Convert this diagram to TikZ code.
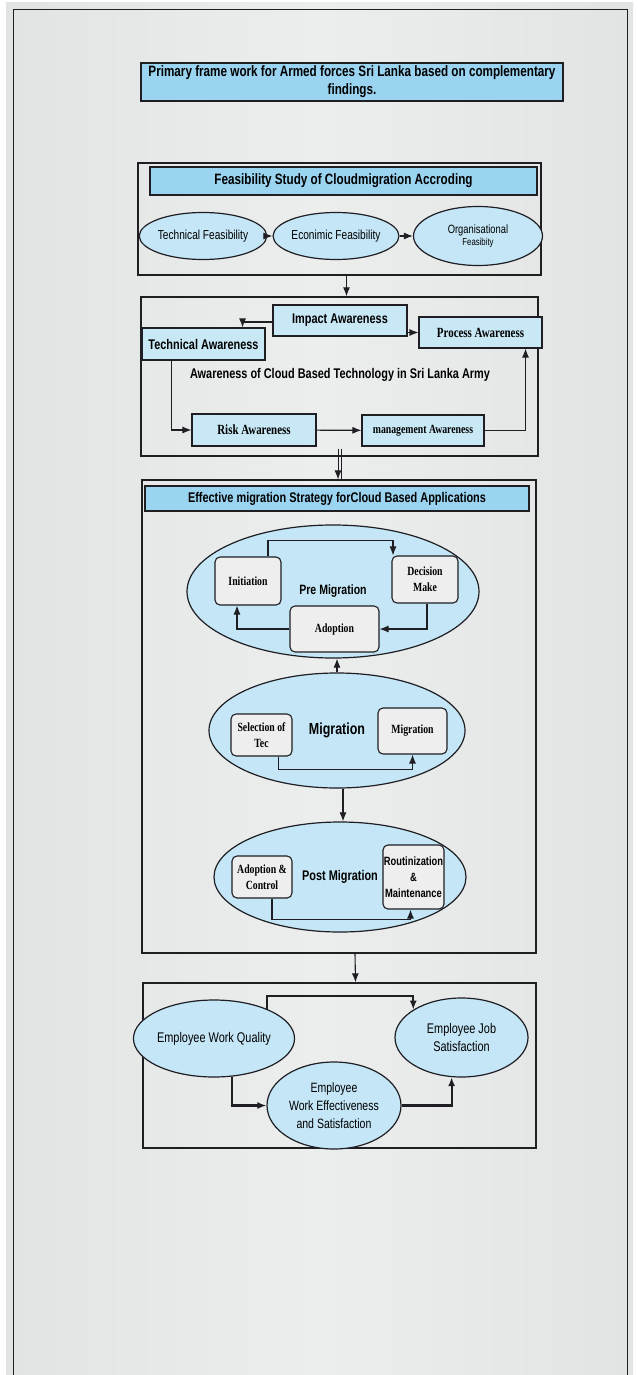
\documentclass[tikz,border=0pt]{standalone}
\usepackage{fontspec}
\setmainfont{Liberation Sans}[FakeStretch=0.78]
\newfontfamily\timesfont{Liberation Serif}[FakeStretch=0.78]
\usepackage{tikz}
\usetikzlibrary{arrows.meta,shapes.geometric}
\definecolor{HeaderBlue}{RGB}{155,212,240}
\definecolor{CloudBlue}{RGB}{196,230,246}
\definecolor{BoxBlue}{RGB}{200,232,246}
\definecolor{PhaseGrey}{RGB}{238,238,238}
\definecolor{LineDark}{RGB}{30,30,35}
\definecolor{PageGrey}{RGB}{226,228,228}
\definecolor{PageLight}{RGB}{236,237,237}

\begin{document}
\begin{tikzpicture}[x=1pt,y=-1pt,>={Latex[length=9pt,width=7pt]},
  frame/.style={draw=LineDark,line width=1.3pt,inner sep=0pt},
  header/.style={draw=LineDark,line width=1.6pt,fill=HeaderBlue,inner sep=0pt,align=center,font=\bfseries\fontsize{14}{18}\selectfont},
  cloud/.style={ellipse,draw=LineDark,line width=1.2pt,fill=CloudBlue,inner sep=0pt,align=center},
  aware/.style={draw=LineDark,line width=1.1pt,fill=BoxBlue,inner sep=0pt},
  phase/.style={draw=LineDark,line width=1.1pt,fill=PhaseGrey,rounded corners=5pt,inner sep=0pt,align=center,font=\timesfont\bfseries\fontsize{12.5}{16}\selectfont},
  link/.style={->,line width=1.1pt,LineDark},
  thicklink/.style={->,line width=2.2pt,LineDark}]
  \useasboundingbox (0,0) rectangle (637,1375);
  \fill[white] (0,0) rectangle (637,1375);
  \shade[left color=PageGrey,right color=PageGrey,middle color=PageLight] (6,3) rectangle (633,1375);
  \draw[LineDark,line width=1pt] (13,1375) -- (13,10) -- (627,10) -- (627,1375);

  \node[header,minimum width=422pt,minimum height=38pt,font=\bfseries\fontsize{15}{18}\selectfont] (title) at (352,82)
    {Primary frame work for Armed forces Sri Lanka based on complementary\\findings.};

  % feasibility
  \node[frame,minimum width=403pt,minimum height=112pt] (feas) at (339.5,219) {};
  \node[header,minimum width=387pt,minimum height=28pt,font=\bfseries\fontsize{15}{18}\selectfont] (feashead) at (343.5,181)
    {Feasibility Study of Cloudmigration Accroding};
  \node[cloud,minimum width=123pt,minimum height=47pt,font=\fontsize{13}{16}\selectfont] (techfeas) at (203,236) {Technical Feasibility};
  \node[cloud,minimum width=121pt,minimum height=47pt,font=\fontsize{13}{16}\selectfont] (econfeas) at (336,236) {Econimic Feasibility};
  \node[cloud,minimum width=129pt,minimum height=59pt] (orgfeas) at (478,236)
    {\fontsize{12}{15}\selectfont Organisational\\\fontsize{10}{15}\selectfont Feasibity};
  \draw[link] (techfeas) -- (econfeas);
  \draw[link] (econfeas) -- (orgfeas);

  % awareness
  \node[frame,minimum width=397pt,minimum height=159pt] (aware) at (339.5,376.5) {};
  \draw[link] ([xshift=7pt]feas.south) -- ([xshift=7pt]aware.north);
  \node[aware,minimum width=134pt,minimum height=31pt,font=\bfseries\fontsize{14}{17}\selectfont] (impact) at (340,320.5) {\raisebox{3pt}{Impact Awareness}};
  \node[aware,minimum width=123pt,minimum height=31pt,font=\timesfont\bfseries\fontsize{14}{17}\selectfont] (process) at (480.5,332.5) {Process Awareness};
  \node[aware,minimum width=123pt,minimum height=32pt,font=\bfseries\fontsize{14}{17}\selectfont] (techaware) at (203.5,344) {Technical Awareness};
  \node[font=\bfseries\fontsize{14}{17}\selectfont] (awarelabel) at (340,375) {Awareness of Cloud Based Technology in Sri Lanka Army};
  \node[aware,minimum width=124pt,minimum height=32pt,font=\timesfont\bfseries\fontsize{14}{17}\selectfont] (risk) at (254,430) {Risk Awareness};
  \node[aware,minimum width=122pt,minimum height=31pt,font=\timesfont\bfseries\fontsize{12.5}{16}\selectfont] (manage) at (423,430.5) {management Awareness};
  \draw[link] ([yshift=-1.5pt]impact.west) -| ([xshift=-23pt]techaware.north east);
  \draw[link] (impact.east |- process.west) -- (process.west);
  \draw[link] ([xshift=30pt]techaware.south west) |- (risk.west);
  \draw[link] (risk) -- (manage);
  \draw[link] (manage.east) -| ([xshift=45pt]process.south);

  % migration strategy
  \node[frame,minimum width=394pt,minimum height=473pt] (effect) at (339,716.5) {};
  \coordinate (dbl) at ([yshift=8pt,xshift=-1.5pt]aware.south);
  \draw[link,line width=0.8pt] (dbl) -- (dbl |- effect.north);
  \draw[LineDark,line width=0.8pt] ([xshift=3pt]dbl) -- ([xshift=3pt]dbl |- effect.north);
  \node[header,minimum width=384pt,minimum height=25pt] (effhead) at (337,498.5)
    {Effective migration Strategy forCloud Based Applications};

  \node[cloud,minimum width=292pt,minimum height=133pt,font=\bfseries\fontsize{13.5}{16}\selectfont] (premig) at (333,591.5) {Pre Migration};
  \node[phase,minimum width=66pt,minimum height=48pt] (initiation) at (248,581) {Initiation};
  \node[phase,minimum width=66pt,minimum height=47pt] (decision) at (425,579.5) {Decision\\Make};
  \node[phase,minimum width=89pt,minimum height=46pt] (adoption) at (334.5,629) {Adoption};
  \draw[link] ([xshift=20pt]initiation.north) -- ++(0,-16) -| ([xshift=-32pt]decision.north);
  \draw[link] ([xshift=2pt]decision.south) |- (adoption.east);
  \draw[link] (adoption.west) -| ([xshift=-11pt]initiation.south);

  \node[cloud,minimum width=256pt,minimum height=115pt,font=\bfseries\fontsize{16}{19}\selectfont] (mig) at (337,730.5) {Migration};
  \node[phase,minimum width=61pt,minimum height=42pt] (selection) at (261.5,735) {Selection of\\Tec};
  \node[phase,minimum width=69pt,minimum height=46pt] (migbox) at (412.5,731) {\raisebox{3pt}{Migration}};
  \draw[link] (mig.north) -- (mig.north |- premig.south);
  \draw[link] ([xshift=17pt]selection.south) -- ++(0,13) -| (migbox.south);

  \node[cloud,minimum width=252pt,minimum height=110pt,font=\bfseries\fontsize{14}{17}\selectfont] (postmig) at (340,877) {Post Migration};
  \node[phase,minimum width=60pt,minimum height=42pt] (control) at (262,877) {Adoption \&\\Control};
  \node[phase,minimum width=61pt,minimum height=64pt,font=\bfseries\fontsize{12}{16}\selectfont] (routine) at (413.5,877)
    {Routinization\\\&\\Maintenance};
  \draw[link] ([xshift=3pt]postmig.north |- mig.south) -- ([xshift=3pt]postmig.north);
  \draw[link] ([xshift=10pt]control.south) -- ++(0,21) -| ([xshift=-3pt]routine.south);

  % employee outcome
  \node[frame,minimum width=393pt,minimum height=165pt] (employ) at (339.5,1065.5) {};
  \draw[link] ([xshift=16pt]effect.south) -- ([xshift=16pt]employ.north);
  \node[cloud,minimum width=136pt,minimum height=77pt,font=\fontsize{14}{18}\selectfont] (quality) at (214,1038.5) {Employee Work Quality};
  \node[cloud,minimum width=133pt,minimum height=79pt,font=\fontsize{14}{18}\selectfont] (jobsat) at (461.5,1037.5) {Employee Job\\Satisfaction};
  \node[cloud,minimum width=134pt,minimum height=87pt,font=\fontsize{13.5}{18}\selectfont] (workeff) at (334,1105.5)
    {Employee\\Work Effectiveness\\and Satisfaction};
  \draw[thicklink] (quality.29) -- ++(0,-13) -| (jobsat.150);
  \draw[thicklink] (quality.-65) |- (workeff.west);
  \draw[thicklink] (workeff.east) -| (jobsat.-104);
\end{tikzpicture}
\end{document}
